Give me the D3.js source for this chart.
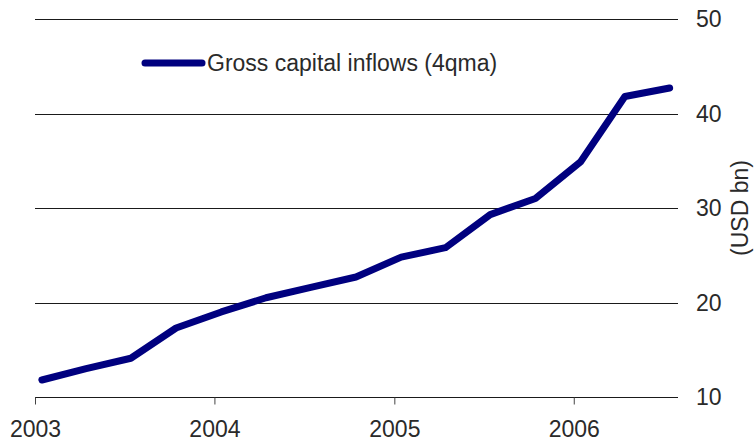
<!DOCTYPE html>
<html>
<head>
<meta charset="utf-8">
<script src="https://cdn.jsdelivr.net/npm/d3@7"></script>
<style>
    body { margin: 0; background: #fff; }
    svg { display: block; }
    text { font-family: "Liberation Sans", Arial, sans-serif; fill: #2a2a2a; }
</style>
</head>
<body>
<svg id="chart" width="755" height="442"></svg>
<script>
/* quarterly gross capital inflows, 4-quarter moving average (USD bn) */
const quarters = [
    "2003-01-15", "2003-04-15", "2003-07-15", "2003-10-15",
    "2004-01-15", "2004-04-15", "2004-07-15", "2004-10-15",
    "2005-01-15", "2005-04-15", "2005-07-15", "2005-10-15",
    "2006-01-15", "2006-04-15", "2006-07-15"
];
const inflows = [11.8, 13.0, 14.1, 17.3, 19.0, 20.5, 21.6, 22.7, 24.8, 25.8, 29.3, 31.0, 34.9, 41.8, 42.7];
const yTicks = [10, 20, 30, 40, 50];
const yearTicks = ["2003", "2004", "2005", "2006"];
const seriesName = "Gross capital inflows (4qma)";
const yTitle = "(USD bn)";

const parse = d3.timeParse("%Y-%m-%d");
const data = quarters.map((q, i) => ({ date: parse(q), value: inflows[i] }));

const svg = d3.select("#chart");

const x = d3.scaleTime()
    .domain([new Date(2003, 0, 1), new Date(2006, 6, 28)])
    .range([35, 676]);

const y = d3.scaleLinear()
    .domain([10, 50])
    .range([397, 19]);

// horizontal gridlines with value labels on the right
const grid = svg.append("g").classed("grid", true);
grid.selectAll("line")
    .data(yTicks)
    .join("line")
    .attr("x1", 35)
    .attr("x2", 678)
    .attr("y1", d => Math.round(y(d)) + 0.5)
    .attr("y2", d => Math.round(y(d)) + 0.5)
    .attr("stroke", "#1a1a1a")
    .attr("stroke-width", 1);
grid.selectAll("text")
    .data(yTicks)
    .join("text")
    .attr("x", 696)
    .attr("y", d => y(d))
    .attr("dy", "0.35em")
    .style("font-size", "23px")
    .text(d => d);

// x axis: ticks under the bottom gridline
const xAxis = svg.append("g")
    .attr("transform", `translate(0,${Math.round(y(10)) + 0.5})`)
    .call(d3.axisBottom(x)
        .tickValues(yearTicks.map(t => new Date(+t, 0, 1)))
        .tickFormat(d3.timeFormat("%Y"))
        .tickSize(7)
        .tickPadding(16));
xAxis.select(".domain").remove();
xAxis.selectAll(".tick line").attr("stroke", "#444");
xAxis.selectAll(".tick text")
    .style("font-size", "23px")
    .style("font-family", "'Liberation Sans', Arial, sans-serif")
    .attr("fill", "#2a2a2a");

// series line
const line = d3.line()
    .x(d => x(d.date))
    .y(d => y(d.value));
svg.append("path")
    .datum(data)
    .attr("d", line)
    .attr("fill", "none")
    .attr("stroke", "#00007f")
    .attr("stroke-width", 7)
    .attr("stroke-linecap", "round")
    .attr("stroke-linejoin", "round");

// legend
const legend = svg.append("g").attr("transform", "translate(145,63)");
legend.append("line")
    .attr("x1", 0)
    .attr("x2", 57)
    .attr("stroke", "#00007f")
    .attr("stroke-width", 7)
    .attr("stroke-linecap", "round");
legend.append("text")
    .attr("x", 62)
    .attr("dy", "0.35em")
    .style("font-size", "23px")
    .text(seriesName);

// y title
svg.append("text")
    .attr("transform", "translate(740,208) rotate(-90)")
    .attr("text-anchor", "middle")
    .attr("dy", "0.35em")
    .style("font-size", "23px")
    .text(yTitle);
</script>
</body>
</html>
